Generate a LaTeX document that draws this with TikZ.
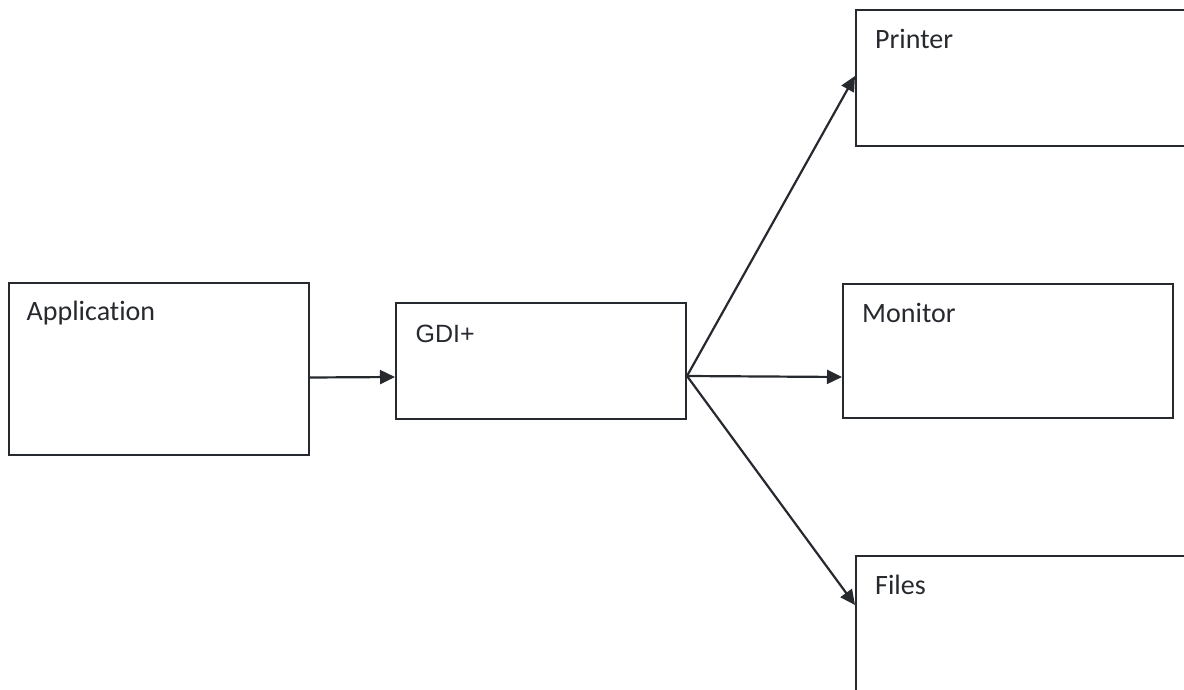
\documentclass[tikz,border=0pt]{standalone}
\usepackage{fontspec}
\setmainfont{Carlito}[Ligatures=NoCommon]
\newfontfamily\arialfont{Liberation Sans}
\usetikzlibrary{arrows.meta}
\definecolor{ink}{HTML}{26292E}
\begin{document}
\begin{tikzpicture}[x=1pt,y=-1pt,
  box/.style={draw=ink,line width=2pt,rectangle,inner sep=0pt,anchor=north west},
  lbl/.style={anchor=base west,inner sep=0pt,text=ink,font=\fontsize{28}{32}\selectfont},
  conn/.style={draw=ink,line width=2.2pt,-{Triangle[length=15pt,width=14pt]}}]
\useasboundingbox (0,0) rectangle (1184,690);
\fill[white] (0,0) rectangle (1184,690);
\begin{scope}
\clip (0,0) rectangle (1184,690);
\node[box,minimum width=300pt,minimum height=172pt] (app) at (8,282) {};
\node[box,minimum width=290pt,minimum height=116pt] (gdi) at (395,302) {};
\node[box,minimum width=340pt,minimum height=136pt] (printer) at (855,9) {};
\node[box,minimum width=330pt,minimum height=134pt] (monitor) at (842,283) {};
\node[box,minimum width=340pt,minimum height=150pt] (files) at (855,555) {};

\node[lbl] (applbl) at (26.5,320.5) {Application};
\node[lbl,font=\arialfont\fontsize{25}{30}\selectfont] (gdilbl) at (415.5,342) {GDI+};
\node[lbl] (prnlbl) at (875,49) {Printer};
\node[lbl] (monlbl) at (862,322) {Monitor};
\node[lbl] (fillbl) at (875,594) {Files};

\draw[conn] ([yshift=-8.5pt]app.east) -- ([yshift=-16pt]gdi.west);
\draw[conn] ([yshift=-15pt]gdi.east) -- ([yshift=2pt]printer.west);
\draw[conn] ([yshift=-15pt]gdi.east) -- ([yshift=-26pt]monitor.west);
\draw[conn] ([yshift=-15pt]gdi.east) -- ([yshift=-50pt]files.north west);
\end{scope}
\end{tikzpicture}
\end{document}
